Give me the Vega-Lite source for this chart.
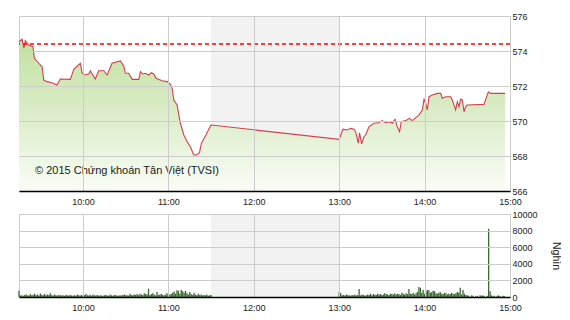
{
"$schema": "https://vega.github.io/schema/vega-lite/v6.json",
"padding": {"left": 16, "top": 11, "right": 0, "bottom": 0},
"bounds": "flush",
"spacing": 23,
"config": {
  "font": "Liberation Sans",
  "view": {"stroke": "#cccccc"},
  "axis": {"gridColor": "#cccccc", "labelFont": "Liberation Sans", "labelFontSize": 9, "labelColor": "#222222", "tickSize": 0, "tickOpacity": 0, "labelFlush": false, "labelOverlap": false}
},
"datasets": {
  "price": [
{"m":15,"p":574.53},{"m":17.1,"p":574.67},{"m":18.5,"p":574.17},{"m":19.4,"p":574.59},{"m":21.8,"p":574.34},{"m":24.8,"p":574.25},{"m":25.8,"p":573.58},{"m":28.9,"p":573.30},{"m":31.2,"p":573.10},{"m":32.4,"p":572.34},{"m":34.7,"p":572.25},{"m":38.2,"p":572.19},{"m":41.7,"p":572.06},{"m":44.0,"p":572.40},{"m":51.1,"p":572.38},{"m":53.5,"p":572.95},{"m":58.1,"p":573.30},{"m":59.3,"p":572.76},{"m":60.5,"p":572.63},{"m":64.0,"p":572.69},{"m":65.1,"p":572.86},{"m":68.6,"p":572.40},{"m":71.0,"p":572.87},{"m":74.6,"p":572.87},{"m":76.9,"p":572.63},{"m":80.4,"p":573.30},{"m":86.2,"p":573.43},{"m":88.6,"p":573.14},{"m":89.7,"p":572.74},{"m":92.1,"p":572.73},{"m":94.5,"p":572.38},{"m":99.2,"p":572.38},{"m":100.3,"p":572.82},{"m":102.0,"p":572.69},{"m":103.8,"p":572.73},{"m":106.2,"p":572.63},{"m":108.0,"p":572.76},{"m":109.7,"p":572.69},{"m":111.3,"p":572.44},{"m":115.5,"p":572.30},{"m":119.1,"p":572.25},{"m":121.4,"p":572.10},{"m":122.6,"p":571.87},{"m":123.8,"p":571.20},{"m":126.1,"p":570.91},{"m":128.4,"p":569.87},{"m":130.8,"p":569.20},{"m":133.1,"p":568.82},{"m":135.4,"p":568.53},{"m":137.8,"p":568.06},{"m":139.5,"p":568.06},{"m":141.8,"p":568.19},{"m":143.2,"p":568.73},{"m":146.0,"p":569.14},{"m":149.5,"p":569.71},{"m":150,"p":569.77},{"m":240,"p":568.95},{"m":242.6,"p":569.53},{"m":245.6,"p":569.49},{"m":248.0,"p":569.58},{"m":250.3,"p":569.53},{"m":251.5,"p":569.39},{"m":253.4,"p":568.73},{"m":254.3,"p":569.33},{"m":255.7,"p":568.69},{"m":257.4,"p":569.10},{"m":258.5,"p":569.20},{"m":260.9,"p":569.67},{"m":264.4,"p":569.87},{"m":267.9,"p":569.90},{"m":270.2,"p":570.02},{"m":272.6,"p":569.90},{"m":275.0,"p":569.96},{"m":277.3,"p":569.87},{"m":279.2,"p":570.10},{"m":280.8,"p":569.67},{"m":282.4,"p":569.39},{"m":283.6,"p":569.96},{"m":286.6,"p":570.02},{"m":289.4,"p":570.15},{"m":291.3,"p":570.02},{"m":293.2,"p":570.15},{"m":296.0,"p":570.34},{"m":298.4,"p":570.63},{"m":299.6,"p":571.24},{"m":300.7,"p":571.03},{"m":301.9,"p":570.63},{"m":303.1,"p":571.39},{"m":305.4,"p":571.49},{"m":309.0,"p":571.58},{"m":311.3,"p":571.58},{"m":312.4,"p":571.30},{"m":314.8,"p":571.39},{"m":318.3,"p":571.39},{"m":319.5,"p":571.20},{"m":321.8,"p":570.63},{"m":323.0,"p":571.10},{"m":324.2,"p":570.82},{"m":325.3,"p":571.24},{"m":326.5,"p":571.20},{"m":327.7,"p":570.53},{"m":328.9,"p":570.82},{"m":330.0,"p":570.91},{"m":341.7,"p":570.95},{"m":344.8,"p":571.67},{"m":346.4,"p":571.58},{"m":356.5,"p":571.58}
  ],
  "vol": [
{"m":15,"v":760},{"m":16,"v":180},{"m":17,"v":220},{"m":18,"v":150},{"m":19,"v":250},{"m":20,"v":300},{"m":21,"v":200},{"m":22,"v":180},{"m":23,"v":350},{"m":24,"v":220},
{"m":25,"v":260},{"m":26,"v":400},{"m":27,"v":200},{"m":28,"v":300},{"m":29,"v":180},{"m":30,"v":420},{"m":31,"v":250},{"m":32,"v":200},{"m":33,"v":380},{"m":34,"v":220},
{"m":35,"v":300},{"m":36,"v":250},{"m":37,"v":450},{"m":38,"v":200},{"m":39,"v":180},{"m":40,"v":300},{"m":41,"v":220},{"m":42,"v":160},{"m":43,"v":250},{"m":44,"v":200},
{"m":45,"v":180},{"m":46,"v":220},{"m":47,"v":150},{"m":48,"v":280},{"m":49,"v":200},{"m":50,"v":170},{"m":51,"v":240},{"m":52,"v":180},{"m":53,"v":150},{"m":54,"v":220},
{"m":55,"v":160},{"m":56,"v":300},{"m":57,"v":200},{"m":58,"v":180},{"m":59,"v":250},{"m":60,"v":150},{"m":61,"v":220},{"m":62,"v":350},{"m":63,"v":200},{"m":64,"v":180},
{"m":65,"v":260},{"m":66,"v":150},{"m":67,"v":300},{"m":68,"v":200},{"m":69,"v":180},{"m":70,"v":250},{"m":71,"v":160},{"m":72,"v":220},{"m":73,"v":180},{"m":74,"v":150},
{"m":75,"v":200},{"m":76,"v":250},{"m":77,"v":180},{"m":78,"v":160},{"m":79,"v":300},{"m":80,"v":200},{"m":81,"v":150},{"m":82,"v":240},{"m":83,"v":220},{"m":84,"v":180},
{"m":85,"v":160},{"m":86,"v":200},{"m":87,"v":180},{"m":88,"v":250},{"m":89,"v":300},{"m":90,"v":200},{"m":91,"v":220},{"m":92,"v":180},{"m":93,"v":400},{"m":94,"v":250},
{"m":95,"v":200},{"m":96,"v":300},{"m":97,"v":250},{"m":98,"v":350},{"m":99,"v":220},{"m":100,"v":400},{"m":101,"v":300},{"m":102,"v":250},{"m":103,"v":450},{"m":104,"v":350},
{"m":105,"v":300},{"m":106,"v":1000},{"m":107,"v":250},{"m":108,"v":350},{"m":109,"v":450},{"m":110,"v":300},{"m":111,"v":200},{"m":112,"v":600},{"m":113,"v":250},{"m":114,"v":300},
{"m":115,"v":350},{"m":116,"v":250},{"m":117,"v":200},{"m":118,"v":300},{"m":119,"v":450},{"m":120,"v":250},{"m":121,"v":300},{"m":122,"v":350},{"m":123,"v":500},{"m":124,"v":650},
{"m":125,"v":400},{"m":126,"v":800},{"m":127,"v":750},{"m":128,"v":400},{"m":129,"v":880},{"m":130,"v":700},{"m":131,"v":500},{"m":132,"v":750},{"m":133,"v":450},{"m":134,"v":300},
{"m":135,"v":600},{"m":136,"v":350},{"m":137,"v":250},{"m":138,"v":500},{"m":139,"v":300},{"m":140,"v":200},{"m":141,"v":400},{"m":142,"v":250},{"m":143,"v":300},{"m":144,"v":200},
{"m":145,"v":250},{"m":146,"v":200},{"m":147,"v":300},{"m":148,"v":150},{"m":149,"v":200},{"m":150,"v":250},
{"m":240,"v":640},{"m":241,"v":480},{"m":242,"v":200},{"m":243,"v":250},{"m":244,"v":180},{"m":245,"v":300},{"m":246,"v":220},{"m":247,"v":200},{"m":248,"v":150},{"m":249,"v":250},
{"m":250,"v":200},{"m":251,"v":300},{"m":252,"v":180},{"m":253,"v":250},{"m":254,"v":960},{"m":255,"v":200},{"m":256,"v":300},{"m":257,"v":250},{"m":258,"v":180},{"m":259,"v":220},
{"m":260,"v":300},{"m":261,"v":250},{"m":262,"v":400},{"m":263,"v":200},{"m":264,"v":350},{"m":265,"v":300},{"m":266,"v":250},{"m":267,"v":400},{"m":268,"v":300},{"m":269,"v":350},
{"m":270,"v":250},{"m":271,"v":300},{"m":272,"v":450},{"m":273,"v":350},{"m":274,"v":300},{"m":275,"v":250},{"m":276,"v":400},{"m":277,"v":350},{"m":278,"v":300},{"m":279,"v":450},
{"m":280,"v":300},{"m":281,"v":400},{"m":282,"v":350},{"m":283,"v":250},{"m":284,"v":500},{"m":285,"v":400},{"m":286,"v":300},{"m":287,"v":450},{"m":288,"v":350},{"m":289,"v":960},
{"m":290,"v":400},{"m":291,"v":350},{"m":292,"v":500},{"m":293,"v":300},{"m":294,"v":450},{"m":295,"v":600},{"m":296,"v":1200},{"m":297,"v":1100},{"m":298,"v":500},{"m":299,"v":850},
{"m":300,"v":400},{"m":301,"v":700},{"m":302,"v":850},{"m":303,"v":800},{"m":304,"v":500},{"m":305,"v":600},{"m":306,"v":750},{"m":307,"v":700},{"m":308,"v":450},{"m":309,"v":400},
{"m":310,"v":500},{"m":311,"v":600},{"m":312,"v":400},{"m":313,"v":350},{"m":314,"v":500},{"m":315,"v":450},{"m":316,"v":300},{"m":317,"v":400},{"m":318,"v":350},{"m":319,"v":500},
{"m":320,"v":400},{"m":321,"v":350},{"m":322,"v":450},{"m":323,"v":600},{"m":324,"v":500},{"m":325,"v":1100},{"m":326,"v":300},{"m":327,"v":850},{"m":328,"v":400},{"m":329,"v":250},
{"m":330,"v":200},{"m":331,"v":150},{"m":333,"v":200},{"m":334,"v":150},{"m":336,"v":100},{"m":337,"v":150},{"m":339,"v":200},
{"m":340,"v":150},{"m":341,"v":200},{"m":342,"v":100},{"m":344,"v":150},{"m":345,"v":8230},{"m":346,"v":680},{"m":347,"v":200},{"m":348,"v":100},{"m":349,"v":150},
{"m":351,"v":150},{"m":352,"v":200},{"m":353,"v":100},{"m":355,"v":150},{"m":356,"v":100}
  ]
},
"vconcat": [
  {
    "width": 491,
    "height": 175,
    "encoding": {
      "x": {"type": "quantitative", "scale": {"domain": [15, 360], "nice": false, "zero": false},
            "axis": {"values": [60, 120, 180, 240, 300, 360], "labelExpr": "(9 + datum.value / 60) + ':00'", "title": null, "domainColor": "#000000", "domainWidth": 1.5, "labelPadding": 6, "grid": true, "gridColor": "#cccccc", "zindex": 1}}
    },
    "layer": [
      {
        "data": {"values": [{"start": 150, "end": 240}]},
        "mark": {"type": "rect", "color": "#f2f2f2"},
        "encoding": {
          "x": {"field": "start", "type": "quantitative"},
          "x2": {"field": "end"}
        }
      },
      {
        "data": {"name": "price"},
        "mark": {"type": "area", "clip": true,
                 "color": {"gradient": "linear", "x1": 1, "y1": 1, "x2": 1, "y2": 0,
                           "stops": [{"offset": 0, "color": "#fafdf7"}, {"offset": 0.5, "color": "#dcedca"}, {"offset": 1, "color": "#c2e1a0"}]}},
        "encoding": {
          "x": {"field": "m", "type": "quantitative"},
          "y": {"field": "p", "type": "quantitative", "stack": null, "scale": {"domain": [566, 576], "nice": false, "zero": false},
                "axis": {"orient": "right", "values": [566, 568, 570, 572, 574, 576], "tickCount": 6, "format": "d", "title": null, "domain": false, "labelPadding": 2, "labelOverlap": false, "grid": true, "gridColor": "#cccccc", "zindex": 1}},
          "y2": {"datum": 566}
        }
      },
      {
        "data": {"name": "price"},
        "mark": {"type": "line", "color": "#d2404f", "strokeWidth": 1.1},
        "encoding": {
          "x": {"field": "m", "type": "quantitative"},
          "y": {"field": "p", "type": "quantitative",
                "axis": {"orient": "right", "values": [566, 568, 570, 572, 574, 576], "tickCount": 6, "format": "d", "title": null, "domain": false, "labelPadding": 2, "labelOverlap": false, "grid": true, "gridColor": "#cccccc", "zindex": 1}}
        }
      },
      {
        "data": {"values": [{"ref": 574.4}]},
        "mark": {"type": "rule", "color": "#ff0000", "strokeWidth": 1.3, "strokeDash": [4, 3]},
        "encoding": {"y": {"field": "ref", "type": "quantitative",
                "axis": {"orient": "right", "values": [566, 568, 570, 572, 574, 576], "tickCount": 6, "format": "d", "title": null, "domain": false, "labelPadding": 2, "labelOverlap": false, "grid": true, "gridColor": "#cccccc", "zindex": 1}}}
      },
      {
        "data": {"values": [{"m": 26.3, "p": 567.15, "label": "© 2015 Chứng khoán Tân Việt (TVSI)"}]},
        "mark": {"type": "text", "align": "left", "baseline": "middle", "font": "Liberation Sans", "fontSize": 11, "color": "#1a1a1a"},
        "encoding": {
          "x": {"field": "m", "type": "quantitative"},
          "y": {"field": "p", "type": "quantitative",
                "axis": {"orient": "right", "values": [566, 568, 570, 572, 574, 576], "tickCount": 6, "format": "d", "title": null, "domain": false, "labelPadding": 2, "labelOverlap": false, "grid": true, "gridColor": "#cccccc", "zindex": 1}},
          "text": {"field": "label"}
        }
      }
    ]
  },
  {
    "width": 491,
    "height": 83,
    "layer": [
      {
        "data": {"values": [{"start": 150, "end": 240}]},
        "mark": {"type": "rect", "color": "#f2f2f2"},
        "encoding": {
          "x": {"field": "start", "type": "quantitative", "scale": {"domain": [15, 360], "nice": false, "zero": false},
                "axis": {"values": [60, 120, 180, 240, 300, 360], "labelExpr": "(9 + datum.value / 60) + ':00'", "title": null, "domainColor": "#000000", "domainWidth": 1.5, "labelPadding": 6, "grid": true, "gridColor": "#cccccc", "zindex": 1}},
          "x2": {"field": "end"}
        }
      },
      {
        "data": {"name": "vol"},
        "mark": {"type": "rule", "color": "#3b6a32", "strokeWidth": 1.3},
        "encoding": {
          "x": {"field": "m", "type": "quantitative"},
          "y": {"field": "v", "type": "quantitative", "scale": {"domain": [0, 10000], "nice": false},
                "axis": {"orient": "right", "values": [0, 2000, 4000, 6000, 8000, 10000], "format": "d", "title": "Nghìn", "titleFont": "Liberation Sans", "titleFontSize": 10.5, "titleFontWeight": "normal", "titleColor": "#222222", "titlePadding": 13, "domain": false, "labelPadding": 2, "grid": true, "gridColor": "#cccccc", "zindex": 1}},
          "y2": {"datum": 0}
        }
      }
    ]
  }
]
}
